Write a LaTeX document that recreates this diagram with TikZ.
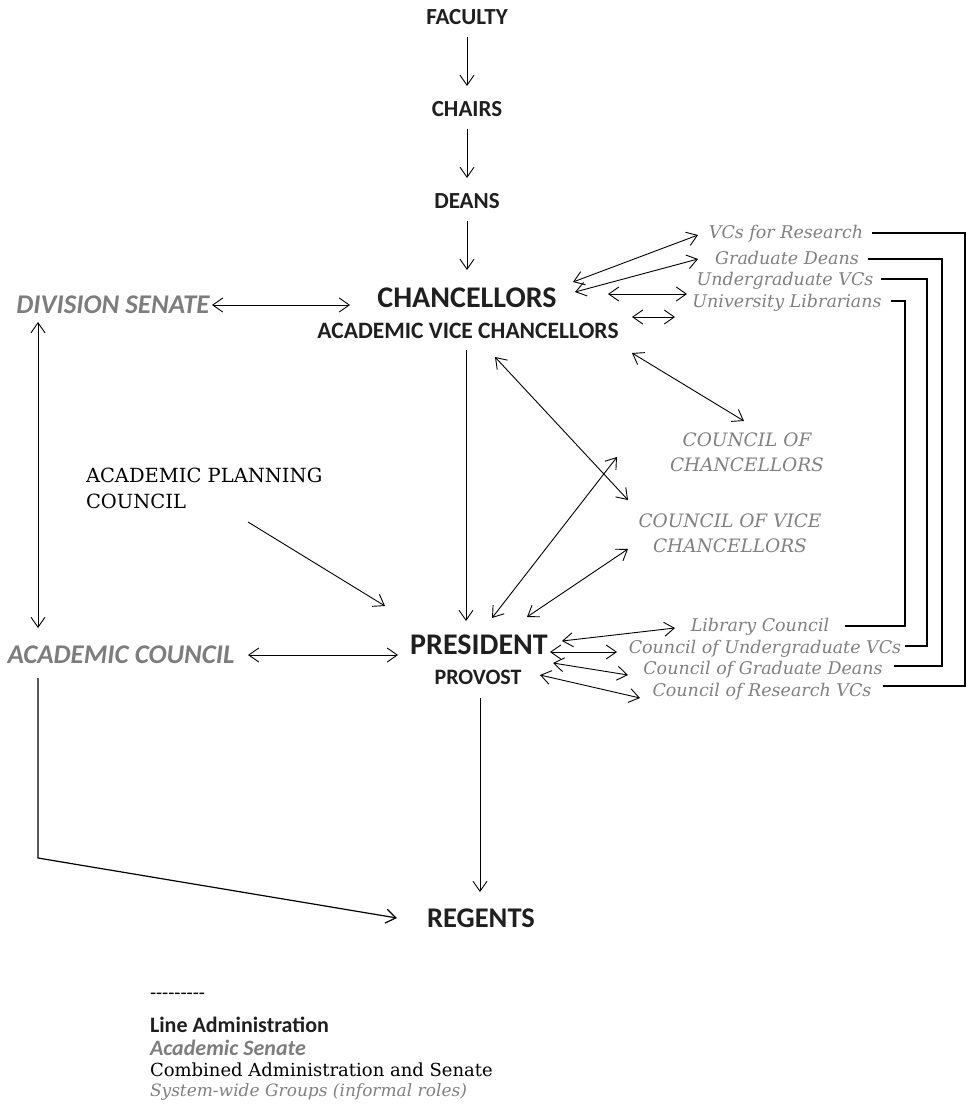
\documentclass[tikz,border=0pt]{standalone}
\usepackage{fontspec}
\newfontfamily\carlito{Carlito}
\newfontfamily\schf{DejaVu Serif}
\usetikzlibrary{arrows.meta,calc}
\definecolor{sengray}{RGB}{125,125,125}
\definecolor{sysgray}{RGB}{128,128,128}
\tikzset{
  adm/.style={font=\carlito\bfseries\fontsize{#1}{#1}\selectfont, text=black!88},
  sen/.style={font=\carlito\bfseries\itshape\fontsize{#1}{#1}\selectfont, text=sengray},
  comb/.style={font=\schf\fontsize{#1}{26}\selectfont, text=black},
  sysg/.style={font=\schf\itshape\fontsize{#1}{25}\selectfont, text=sysgray},
  conn/.style={line width=0.9pt, -{Straight Barb[length=10pt,width=14pt]}},
  dconn/.style={line width=0.9pt, {Straight Barb[length=10pt,width=14pt]}-{Straight Barb[length=10pt,width=14pt]}},
  bracket/.style={line width=1.8pt, line cap=rect},
}
\begin{document}
\begin{tikzpicture}[x=1pt,y=-1pt, every node/.style={inner sep=0pt, outer sep=0pt}]
\useasboundingbox (0,0) rectangle (966,1116);
% line administration
\node[adm=23] (fac) at (467,17) {FACULTY};
\node[adm=23] (chairs) at (467,109) {CHAIRS};
\node[adm=23] (deans) at (467,201) {DEANS};
\node[adm=30] (chan) at (467,298) {CHANCELLORS};
\node[adm=23.5] (avc) at (468,331) {ACADEMIC VICE CHANCELLORS};
\node[adm=30] (pres) at (479,645) {PRESIDENT};
\node[adm=22] (prov) at (478,677) {PROVOST};
\node[adm=28.5] (reg) at (481,918) {REGENTS};
% senate
\node[sen=27] (ds) at (113,305) {DIVISION SENATE};
\node[sen=27] (ac) at (121,655) {ACADEMIC COUNCIL};
% combined
\node[comb=19.5, align=left, anchor=west] (apc) at (86,488) {ACADEMIC PLANNING\\COUNCIL};
% system-wide
\node[sysg=18.5, align=center] (coc) at (747,452) {COUNCIL OF\\CHANCELLORS};
\node[sysg=18.5, align=center] (covc) at (730,533) {COUNCIL OF VICE\\CHANCELLORS};
\node[sysg=17.5] (vr) at (786,234) {VCs for Research};
\node[sysg=17.5] (gd) at (787,258) {Graduate Deans};
\node[sysg=17.5] (uvc) at (785,281) {Undergraduate VCs};
\node[sysg=17.5] (ul) at (787,303) {University Librarians};
\node[sysg=17.5] (lc) at (760,627) {Library Council};
\node[sysg=17.5] (cuvc) at (765,649) {Council of Undergraduate VCs};
\node[sysg=17.5] (cgd) at (763,670) {Council of Graduate Deans};
\node[sysg=17.5] (crv) at (762,692) {Council of Research VCs};
% legend
\node[anchor=west, font=\carlito\fontsize{20}{20}\selectfont] (dash) at (150,996) {-{}-{}-{}-{}-{}-{}-{}-{}-};
\node[adm=22, anchor=west] (l1) at (150,1025) {Line Administration};
\node[sen=22, anchor=west] (l2) at (150,1048) {Academic Senate};
\node[comb=18, anchor=west] (l3) at (150,1070) {Combined Administration and Senate};
\node[sysg=17, anchor=west] (l4) at (150,1092) {System-wide Groups (informal roles)};

% vertical chain
\draw[conn] ($(fac)+(0,20)$) -- ($(chairs)+(0,-23)$);
\draw[conn] ($(chairs)+(0,20)$) -- ($(deans)+(0,-23)$);
\draw[conn] ($(deans)+(0,20)$) -- ($(chan)+(0,-28)$);
\draw[conn] ($(avc)+(-2,19)$) -- ($(pres)+(-13,-24)$);
\draw[conn] ($(prov)+(2,21)$) -- ($(reg)+(-1,-26)$);
% senate links
\draw[dconn] ($(ds)+(99,0)$) -- ($(chan)+(-117,7)$);
\draw[dconn] ($(ds)+(-75,17)$) -- ($(ac)+(-83,-27)$);
\draw[dconn] ($(ac)+(127,0)$) -- ($(pres)+(-81,10)$);
\draw[conn, line width=1.2pt] ($(ac)+(-83,23)$) -- ++(0,180) -- ($(reg)+(-84,0)$);
% planning council
\draw[conn] ($(apc.west)+(162,34)$) -- ($(pres)+(-94,-39)$);
% councils
\draw[dconn] ($(avc)+(27,26)$) -- ($(covc)+(-102,-33)$);
\draw[dconn] ($(pres)+(13,-27)$) -- ($(coc)+(-130,5)$);
\draw[dconn] ($(pres)+(48,-28)$) -- ($(covc)+(-102,16)$);
\draw[dconn] ($(avc)+(164,22)$) -- ($(coc)+(-3,-31)$);
% top right groups
\draw[dconn] ($(chan)+(106,-16)$) -- ($(vr)+(-88,1)$);
\draw[dconn] ($(chan)+(108,-6)$) -- ($(gd)+(-89,1)$);
\draw[dconn] ($(chan)+(141,-4)$) -- ($(uvc)+(-98,13)$);
\coordinate (sa) at ($(avc)+(164,-14)$);
\coordinate (sb) at ($(avc)+(207,-14)$);
\draw[dconn] (sa) -- (sb);
% bottom right groups
\draw[dconn] ($(pres)+(83,-4)$) -- ($(lc)+(-85,1)$);
\draw[dconn] ($(pres)+(71,7)$) -- ($(cuvc)+(-148,3)$);
\draw[dconn] ($(pres)+(74,18)$) -- ($(cgd)+(-135,5)$);
\draw[dconn] ($(pres)+(61,30)$) -- ($(crv)+(-122,6)$);
% brackets
\coordinate (x1) at (965,0);
\coordinate (x2) at (942,0);
\coordinate (x3) at (927,0);
\coordinate (x4) at (905,0);
\draw[bracket] ([xshift=10pt,yshift=1pt]vr.east) -- ([yshift=1pt]vr.east -| x1) -- ([yshift=6pt]crv.east -| x1) -- ([xshift=12pt,yshift=6pt]crv.east);
\draw[bracket] ([xshift=10pt,yshift=-1pt]gd.east) -- ([yshift=-1pt]gd.east -| x2) -- ([yshift=4pt]cgd.east -| x2) -- ([xshift=12pt,yshift=4pt]cgd.east);
\draw[bracket] ([xshift=8pt,yshift=2pt]uvc.east) -- ([yshift=2pt]uvc.east -| x3) -- ([yshift=3pt]cuvc.east -| x3) -- ([xshift=5pt,yshift=3pt]cuvc.east);
\draw[bracket] ([xshift=10pt,yshift=2pt]ul.east) -- ([yshift=2pt]ul.east -| x4) -- ([yshift=1pt]lc.east -| x4) -- ([xshift=17pt,yshift=1pt]lc.east);
\end{tikzpicture}
\end{document}
